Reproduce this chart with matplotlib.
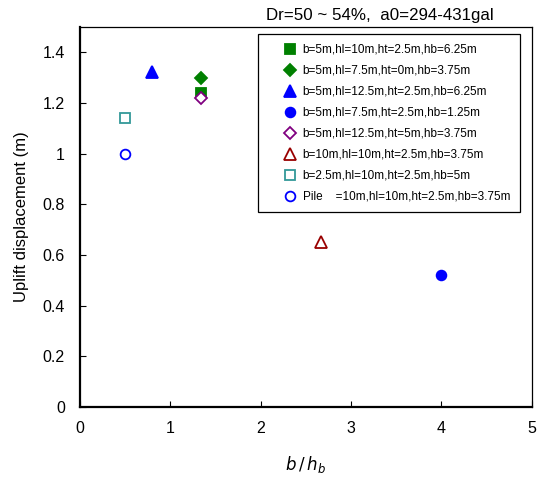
import matplotlib
matplotlib.use("Agg")
import matplotlib.pyplot as plt
from matplotlib.ticker import FuncFormatter

plt.rcParams['font.family'] = ['Liberation Sans', 'DejaVu Sans']

# b/hb and uplift displacement for each case
labels = [
    "b=5m,hl=10m,ht=2.5m,hb=6.25m",
    "b=5m,hl=7.5m,ht=0m,hb=3.75m",
    "b=5m,hl=12.5m,ht=2.5m,hb=6.25m",
    "b=5m,hl=7.5m,ht=2.5m,hb=1.25m",
    "b=5m,hl=12.5m,ht=5m,hb=3.75m",
    "b=10m,hl=10m,ht=2.5m,hb=3.75m",
    "b=2.5m,hl=10m,ht=2.5m,hb=5m",
    "Pile    =10m,hl=10m,ht=2.5m,hb=3.75m",
]
b_hb = [1.333, 1.333, 0.8, 4.0, 1.333, 2.667, 0.5, 0.5]
uplift = [1.24, 1.30, 1.32, 0.52, 1.22, 0.65, 1.14, 1.00]

markers = ['s', 'D', '^', 'o', 'D', '^', 's', 'o']
colors = ['#008000', '#008000', '#0000ff', '#0000ff', '#800080', '#990000', '#339999', '#0000ff']
filled = [True, True, True, True, False, False, False, False]
sizes = [7, 6, 8, 7, 6, 8, 7, 7]

fig = plt.figure(figsize=(5.41, 4.79), dpi=100)
ax = fig.add_axes([0.148, 0.150, 0.835, 0.794])

for x, y, lab, m, c, f, s in zip(b_hb, uplift, labels, markers, colors, filled, sizes):
    ax.plot([x], [y], linestyle='none', marker=m, markersize=s,
            markerfacecolor=c if f else 'white', markeredgecolor=c,
            markeredgewidth=1.3, label=lab)

ax.set_xlim(0, 5)
ax.set_ylim(0, 1.5)
ax.set_xticks(range(6))
ax.set_yticks([0, 0.2, 0.4, 0.6, 0.8, 1.0, 1.2, 1.4])
ax.yaxis.set_major_formatter(FuncFormatter(lambda v, p: f"{v:g}"))
ax.tick_params(direction='in', length=4, labelsize=11.5)
ax.tick_params(axis='y', pad=11)
ax.tick_params(axis='x', pad=10)
for side in ['left', 'bottom']:
    ax.spines[side].set_linewidth(1.6)
for side in ['right', 'top']:
    ax.spines[side].set_linewidth(0.9)

ax.set_xlabel(r"$b\,/\,h_b$", fontsize=12, labelpad=13)
ax.set_ylabel("Uplift displacement (m)", fontsize=12, labelpad=10)

fig.text(0.702, 0.968, "Dr=50 ~ 54%,  a0=294-431gal", fontsize=12.2, ha='center', va='center')

leg = ax.legend(loc='upper right', bbox_to_anchor=(0.973, 0.98), fontsize=8.5,
                frameon=True, fancybox=False, edgecolor='black', framealpha=1,
                handletextpad=-0.9, handlelength=3.9, borderpad=0.8, labelspacing=0.76,
                borderaxespad=0)
leg.get_frame().set_linewidth(0.9)

fig.savefig("out.png", dpi=100)
